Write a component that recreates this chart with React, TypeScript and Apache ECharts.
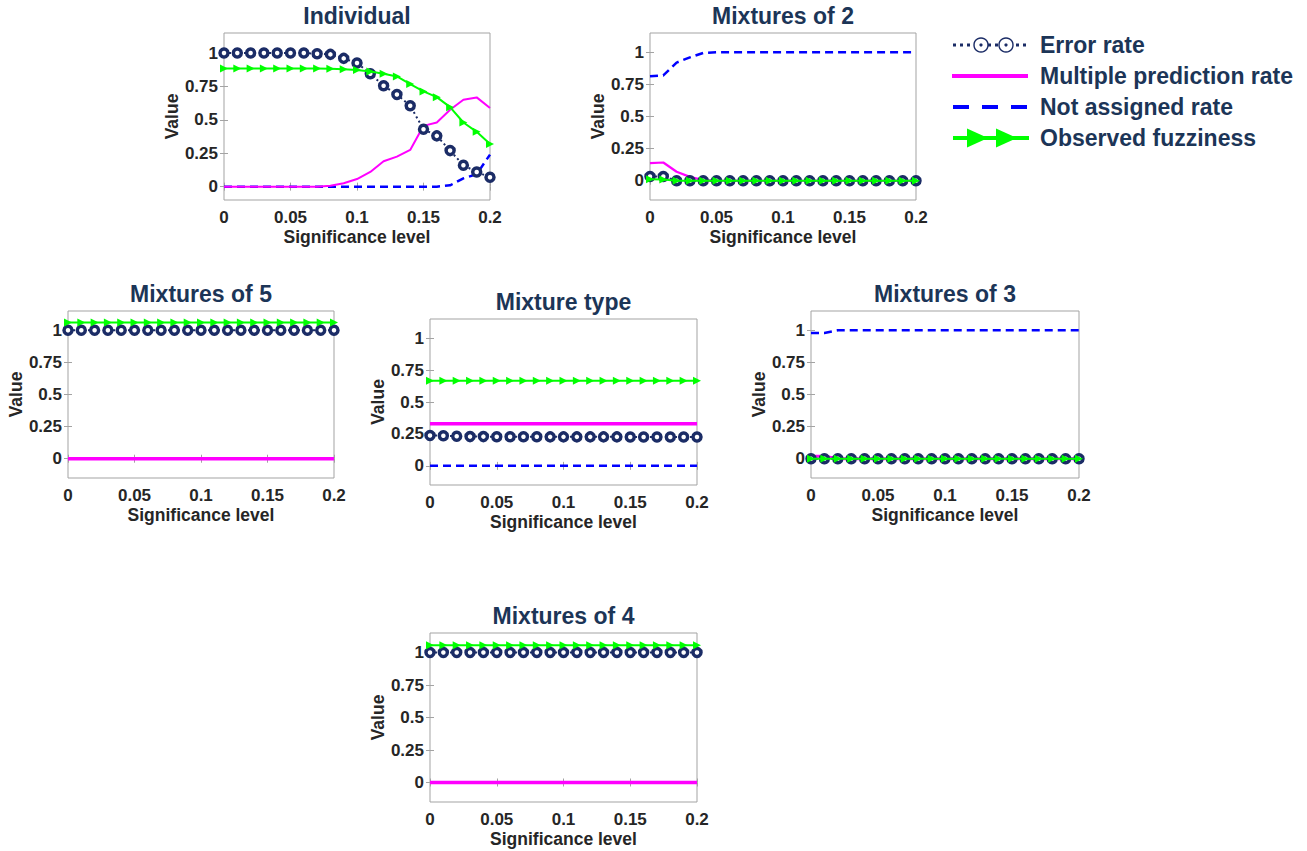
import React, { useEffect, useRef } from 'react';
import * as echarts from 'echarts';

const sigLevels = [0, 0.01, 0.02, 0.03, 0.04, 0.05, 0.06, 0.07, 0.08, 0.09, 0.1, 0.11, 0.12, 0.13, 0.14, 0.15, 0.16, 0.17, 0.18, 0.19, 0.2];
const xTicks = [0, 0.05, 0.1, 0.15, 0.2];
const yTicks = [0, 0.25, 0.5, 0.75, 1];
const seriesNames = ['Error rate', 'Multiple prediction rate', 'Not assigned rate', 'Observed fuzziness'];

// Individual
const indError = [1, 1, 1, 1, 1, 1, 1, 0.995, 0.99, 0.96, 0.925, 0.845, 0.755, 0.69, 0.605, 0.43, 0.38, 0.27, 0.16, 0.11, 0.07];
const indMultiple = [0, 0, 0, 0, 0, 0, 0, 0, 0.007, 0.025, 0.057, 0.11, 0.19, 0.225, 0.275, 0.455, 0.48, 0.575, 0.65, 0.668, 0.588];
const indNotAssigned = [0, 0, 0, 0, 0, 0, 0, 0, 0, 0, 0, 0, 0, 0, 0, 0, 0, 0.01, 0.062, 0.093, 0.24];
const indFuzziness = [0.885, 0.885, 0.885, 0.885, 0.885, 0.885, 0.885, 0.885, 0.883, 0.878, 0.873, 0.862, 0.845, 0.825, 0.768, 0.713, 0.67, 0.595, 0.48, 0.41, 0.32];

// Mixtures of 2
const m2Error = [0.033, 0.033, 0, 0, 0, 0, 0, 0, 0, 0, 0, 0, 0, 0, 0, 0, 0, 0, 0, 0, 0];
const m2Multiple = [0.137, 0.142, 0.07, 0.03, 0.005, 0, 0, 0, 0, 0, 0, 0, 0, 0, 0, 0, 0, 0, 0, 0, 0];
const m2NotAssigned = [0.814, 0.82, 0.92, 0.96, 0.995, 1, 1, 1, 1, 1, 1, 1, 1, 1, 1, 1, 1, 1, 1, 1, 1];
const m2Fuzziness = [0.012, 0.01, 0, 0, 0, 0, 0, 0, 0, 0, 0, 0, 0, 0, 0, 0, 0, 0, 0, 0, 0];

// Mixtures of 5
const m5Error = [1, 1, 1, 1, 1, 1, 1, 1, 1, 1, 1, 1, 1, 1, 1, 1, 1, 1, 1, 1, 1];
const m5Multiple = [0, 0, 0, 0, 0, 0, 0, 0, 0, 0, 0, 0, 0, 0, 0, 0, 0, 0, 0, 0, 0];
const m5NotAssigned = [0, 0, 0, 0, 0, 0, 0, 0, 0, 0, 0, 0, 0, 0, 0, 0, 0, 0, 0, 0, 0];
const m5Fuzziness = [1.06, 1.06, 1.06, 1.06, 1.06, 1.06, 1.06, 1.06, 1.06, 1.06, 1.06, 1.06, 1.06, 1.06, 1.06, 1.06, 1.06, 1.06, 1.06, 1.06, 1.06];

// Mixture type
const mtError = [0.238, 0.236, 0.232, 0.229, 0.229, 0.228, 0.228, 0.228, 0.228, 0.227, 0.227, 0.227, 0.227, 0.227, 0.227, 0.226, 0.226, 0.226, 0.226, 0.226, 0.226];
const mtMultiple = [0.33, 0.33, 0.33, 0.33, 0.33, 0.33, 0.33, 0.33, 0.33, 0.33, 0.33, 0.33, 0.33, 0.33, 0.33, 0.33, 0.33, 0.33, 0.33, 0.33, 0.33];
const mtNotAssigned = [0, 0, 0, 0, 0, 0, 0, 0, 0, 0, 0, 0, 0, 0, 0, 0, 0, 0, 0, 0, 0];
const mtFuzziness = [0.667, 0.667, 0.667, 0.667, 0.667, 0.667, 0.667, 0.667, 0.667, 0.667, 0.667, 0.667, 0.667, 0.667, 0.667, 0.667, 0.667, 0.667, 0.667, 0.667, 0.667];

// Mixtures of 3
const m3Error = [0, 0, 0, 0, 0, 0, 0, 0, 0, 0, 0, 0, 0, 0, 0, 0, 0, 0, 0, 0, 0];
const m3Multiple = [0.02, 0.02, 0, 0, 0, 0, 0, 0, 0, 0, 0, 0, 0, 0, 0, 0, 0, 0, 0, 0, 0];
const m3NotAssigned = [0.979, 0.979, 1, 1, 1, 1, 1, 1, 1, 1, 1, 1, 1, 1, 1, 1, 1, 1, 1, 1, 1];
const m3Fuzziness = [0, 0, 0, 0, 0, 0, 0, 0, 0, 0, 0, 0, 0, 0, 0, 0, 0, 0, 0, 0, 0];

// Mixtures of 4
const m4Error = [1, 1, 1, 1, 1, 1, 1, 1, 1, 1, 1, 1, 1, 1, 1, 1, 1, 1, 1, 1, 1];
const m4Multiple = [0, 0, 0, 0, 0, 0, 0, 0, 0, 0, 0, 0, 0, 0, 0, 0, 0, 0, 0, 0, 0];
const m4NotAssigned = [0, 0, 0, 0, 0, 0, 0, 0, 0, 0, 0, 0, 0, 0, 0, 0, 0, 0, 0, 0, 0];
const m4Fuzziness = [1.055, 1.055, 1.055, 1.055, 1.055, 1.055, 1.055, 1.055, 1.055, 1.055, 1.055, 1.055, 1.055, 1.055, 1.055, 1.055, 1.055, 1.055, 1.055, 1.055, 1.055];

const FONT = '"Liberation Sans", Arial, Helvetica, sans-serif';
const NAVY = '#1b2c66';
const TITLE_NAVY = '#1c3557';
const TEXT = '#262626';
const BOX = '#a3a3a3';

const panels = [
  { title: 'Individual', err: indError, mult: indMultiple, na: indNotAssigned, fuzz: indFuzziness, box: [224, 33, 266, 167], yMin: -0.1, multWidth: 2 },
  { title: 'Mixtures of 2', err: m2Error, mult: m2Multiple, na: m2NotAssigned, fuzz: m2Fuzziness, box: [650, 33, 266, 167], yMin: -0.15, multWidth: 2.2 },
  { title: 'Mixtures of 5', err: m5Error, mult: m5Multiple, na: m5NotAssigned, fuzz: m5Fuzziness, box: [68, 311, 266, 167], yMin: -0.15, multWidth: 3.5 },
  { title: 'Mixture type', err: mtError, mult: mtMultiple, na: mtNotAssigned, fuzz: mtFuzziness, box: [430, 319, 267, 166], yMin: -0.15, multWidth: 3.5 },
  { title: 'Mixtures of 3', err: m3Error, mult: m3Multiple, na: m3NotAssigned, fuzz: m3Fuzziness, box: [811, 311, 268, 167], yMin: -0.15, multWidth: 3 },
  { title: 'Mixtures of 4', err: m4Error, mult: m4Multiple, na: m4NotAssigned, fuzz: m4Fuzziness, box: [430, 633, 267, 169], yMin: -0.15, multWidth: 3.5 },
];

const pairs = (arr: number[]) => sigLevels.map((x, k) => [x, arr[k]]);

function buildOption() {
  const grid: any[] = [];
  const xAxis: any[] = [];
  const yAxis: any[] = [];
  const series: any[] = [];
  const graphic: any[] = [];

  const tickStyle = { color: BOX, width: 1 };
  const labelStyle = { fontFamily: FONT, fontWeight: 'bold', fontSize: 17, color: TEXT };

  panels.forEach((p, i) => {
    const [left, top, width, height] = p.box;
    grid.push({ left, top, width, height, show: true, borderColor: BOX, borderWidth: 1, backgroundColor: '#ffffff' });
    xAxis.push({
      type: 'value', gridIndex: i, min: 0, max: 0.2, interval: 0.05, position: 'bottom',
      axisLine: { show: false },
      axisTick: { show: true, inside: true, length: 4, lineStyle: tickStyle },
      axisLabel: { ...labelStyle, margin: 9, customValues: xTicks },
      splitLine: { show: false },
      name: 'Significance level', nameLocation: 'middle', nameGap: 28,
      nameTextStyle: { fontFamily: FONT, fontWeight: 'bold', fontSize: 17.5, color: TEXT },
    });
    xAxis.push({
      type: 'value', gridIndex: i, min: 0, max: 0.2, interval: 0.05, position: 'top',
      axisLine: { show: false },
      axisTick: { show: true, inside: true, length: 4, lineStyle: tickStyle },
      axisLabel: { show: false },
      splitLine: { show: false },
    });
    yAxis.push({
      type: 'value', gridIndex: i, min: p.yMin, max: 1.15, position: 'left',
      axisLine: { show: false },
      axisTick: { show: true, inside: true, length: 4, lineStyle: tickStyle, customValues: yTicks },
      axisLabel: { ...labelStyle, margin: 6, customValues: yTicks },
      splitLine: { show: false },
      name: 'Value', nameLocation: 'middle', nameGap: 43,
      nameTextStyle: { fontFamily: FONT, fontWeight: 'bold', fontSize: 17.5, color: TEXT },
    });
    yAxis.push({
      type: 'value', gridIndex: i, min: p.yMin, max: 1.15, position: 'right',
      axisLine: { show: false },
      axisTick: { show: true, inside: true, length: 4, lineStyle: tickStyle, customValues: yTicks },
      axisLabel: { show: false },
      splitLine: { show: false },
    });
    const xi = 2 * i;
    const yi = 2 * i;
    series.push({
      name: seriesNames[2], type: 'line', xAxisIndex: xi, yAxisIndex: yi, data: pairs(p.na),
      symbol: 'none', lineStyle: { color: '#0000ff', width: 2.5, type: [8, 5] }, z: 2, silent: true,
    });
    series.push({
      name: seriesNames[1], type: 'line', xAxisIndex: xi, yAxisIndex: yi, data: pairs(p.mult),
      symbol: 'none', lineStyle: { color: '#ff00ff', width: p.multWidth }, z: 3, silent: true,
    });
    series.push({
      name: seriesNames[0], type: 'line', xAxisIndex: xi, yAxisIndex: yi, data: pairs(p.err),
      symbol: 'circle', symbolSize: 8, showAllSymbol: true,
      lineStyle: { color: NAVY, width: 2, type: [2, 3] },
      itemStyle: { color: '#ffffff', borderColor: NAVY, borderWidth: 3.5 }, z: 4, silent: true,
    });
    series.push({
      name: seriesNames[3], type: 'line', xAxisIndex: xi, yAxisIndex: yi, data: pairs(p.fuzz),
      symbol: 'triangle', symbolRotate: -90, symbolSize: 8, showAllSymbol: true,
      lineStyle: { color: '#00ff00', width: 2 },
      itemStyle: { color: '#00ff00' }, z: 5, silent: true,
    });
    graphic.push({
      type: 'text', x: left + width / 2, y: top - 17,
      style: { text: p.title, fill: TITLE_NAVY, font: `bold 23px ${FONT}`, textAlign: 'center', textVerticalAlign: 'middle' },
    });
  });

  // Legend (drawn manually)
  const lx0 = 953, lx1 = 1028, tx = 1040;
  const ly = [45, 76, 107, 138];
  graphic.push({ type: 'line', shape: { x1: lx0, y1: ly[0], x2: lx1, y2: ly[0] }, style: { stroke: NAVY, lineWidth: 3, lineDash: [3, 4] } });
  [981, 1006].forEach((cx) => {
    graphic.push({ type: 'circle', shape: { cx, cy: ly[0], r: 7 }, style: { fill: '#ffffff', stroke: NAVY, lineWidth: 1.4 } });
    graphic.push({ type: 'circle', shape: { cx, cy: ly[0], r: 1.6 }, style: { fill: NAVY } });
  });
  graphic.push({ type: 'line', shape: { x1: lx0 - 1, y1: ly[1], x2: lx1, y2: ly[1] }, style: { stroke: '#ff00ff', lineWidth: 4 } });
  graphic.push({ type: 'line', shape: { x1: lx0, y1: ly[2], x2: lx1, y2: ly[2] }, style: { stroke: '#0000ff', lineWidth: 4, lineDash: [16, 13] } });
  graphic.push({ type: 'line', shape: { x1: lx0, y1: ly[3], x2: lx1 + 1, y2: ly[3] }, style: { stroke: '#00ff00', lineWidth: 4 } });
  [967, 996].forEach((x) => {
    graphic.push({ type: 'polygon', shape: { points: [[x, ly[3] - 9.5], [x + 21, ly[3]], [x, ly[3] + 9.5]] }, style: { fill: '#00ff00' } });
  });
  seriesNames.forEach((n, k) => {
    graphic.push({
      type: 'text', x: tx, y: ly[k],
      style: { text: n, fill: TITLE_NAVY, font: `bold 23px ${FONT}`, textAlign: 'left', textVerticalAlign: 'middle' },
    });
  });

  return {
    animation: false,
    backgroundColor: '#ffffff',
    grid, xAxis, yAxis, series, graphic,
  };
}

export default function App() {
  const ref = useRef<HTMLDivElement>(null);
  useEffect(() => {
    if (!ref.current) return;
    const chart = echarts.init(ref.current, undefined, { renderer: 'svg' });
    chart.setOption(buildOption() as any);
    return () => chart.dispose();
  }, []);
  return (
    <div
      ref={ref}
      style={{ position: 'fixed', left: 0, top: 0, width: 1307, height: 851, background: '#ffffff' }}
    />
  );
}
